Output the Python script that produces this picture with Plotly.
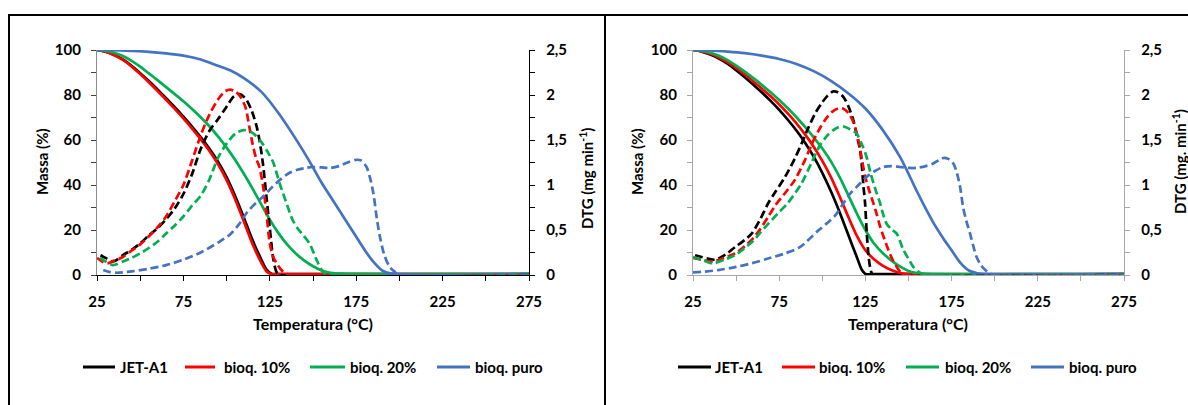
import plotly.graph_objects as go

# ---------------- DATA ----------------
# Axis ticks
X_TICKS = [25, 75, 125, 175, 225, 275]
X_TICK_LABELS = ["25", "75", "125", "175", "225", "275"]
X_MINOR_TICKS = [50, 100, 150, 200, 250]
MASS_TICKS = [0, 20, 40, 60, 80, 100]
MASS_TICK_LABELS = ["0", "20", "40", "60", "80", "100"]
MASS_MINOR_TICKS = [10, 30, 50, 70, 90]
DTG_TICKS = [0, 0.5, 1, 1.5, 2, 2.5]
DTG_TICK_LABELS = ["0", "0,5", "1", "1,5", "2", "2,5"]
DTG_MINOR_TICKS = [0.25, 0.75, 1.25, 1.75, 2.25]

SERIES = ["JET-A1", "bioq. 10%", "bioq. 20%", "bioq. puro"]

# ---- Left chart: TG (Massa %) ----
L_JET_TG_T = [25, 30, 35, 40, 45, 50, 55, 60, 65, 70, 75, 80, 85, 90, 95, 100, 105, 110, 115, 120, 123, 126, 130, 275]
L_JET_TG = [100, 99.2, 97.8, 95.8, 93, 89.7, 86.2, 82.5, 78.6, 74.6, 70.4, 66, 61.3, 56.2, 50.4, 43.5, 35, 25.5, 15.5, 7, 2.5, 0.5, 0.4, 0.4]
L_B10_TG_T = [25, 30, 35, 40, 45, 50, 55, 60, 65, 70, 75, 80, 85, 90, 95, 100, 105, 110, 115, 120, 123, 126, 130, 275]
L_B10_TG = [100, 99.2, 97.7, 95.6, 92.7, 89.3, 85.7, 81.9, 77.9, 73.8, 69.6, 65.1, 60.4, 55.2, 49.3, 42.2, 33.6, 23.8, 13.8, 5.6, 1.7, 0.4, 0.4, 0.4]
L_B20_TG_T = [25, 30, 35, 40, 45, 50, 55, 60, 65, 70, 75, 80, 85, 90, 95, 100, 105, 110, 115, 120, 125, 130, 135, 140, 145, 150, 155, 160, 166, 275]
L_B20_TG = [100, 99.6, 98.8, 97.3, 95.2, 92.6, 89.6, 86.6, 83.5, 80.4, 77.2, 73.8, 70.1, 66.1, 61.6, 56.6, 51.1, 45, 38.4, 31.5, 24.6, 18.6, 13.6, 9.6, 6.4, 3.9, 2, 1, 0.6, 0.6]
L_PURO_TG_T = [25, 35, 45, 55, 65, 75, 85, 95, 102, 110, 120, 130, 140, 148, 155, 160, 165, 170, 175, 180, 185, 190, 195, 275]
L_PURO_TG = [100, 99.9, 99.6, 99.2, 98.5, 97.5, 95.8, 93, 91, 87.5, 81.5, 72, 60.5, 50.5, 41, 35, 29, 23, 17, 11, 5.8, 2, 0.6, 0.4]

# ---- Left chart: DTG ----
L_JET_DTG_T = [27, 30, 34.5, 40, 45, 50, 55, 60, 65, 70, 75, 80, 85, 90, 95, 100, 104, 107.5, 111, 114, 117, 119, 121, 123, 125, 127, 129, 131, 275]
L_JET_DTG = [0.22, 0.19, 0.15, 0.22, 0.28, 0.35, 0.44, 0.52, 0.62, 0.74, 0.9, 1.12, 1.4, 1.6, 1.73, 1.87, 1.98, 2.01, 1.96, 1.85, 1.68, 1.5, 1.24, 0.88, 0.52, 0.18, 0.03, 0, 0]
L_B10_DTG_T = [25, 28, 31, 35, 40, 45, 50, 55, 60, 65, 70, 75, 80, 85, 90, 95, 99, 102, 105, 108, 111, 113, 115, 117, 119, 121, 123, 125, 127, 129, 132, 135, 275]
L_B10_DTG = [0.19, 0.15, 0.13, 0.16, 0.2, 0.27, 0.34, 0.43, 0.53, 0.65, 0.82, 1.0, 1.27, 1.55, 1.78, 1.95, 2.04, 2.06, 2.04, 1.98, 1.86, 1.66, 1.46, 1.3, 1.2, 1.0, 0.7, 0.35, 0.2, 0.13, 0.05, 0.01, 0]
L_B20_DTG_T = [26.7, 30, 34.4, 40, 45, 50, 55, 60, 65, 70, 75, 80, 85, 90, 95, 100, 105, 110, 115, 120, 124, 127, 131, 135, 138, 141, 144, 148, 152, 156, 160, 275]
L_B20_DTG = [0.19, 0.15, 0.11, 0.15, 0.19, 0.24, 0.3, 0.37, 0.46, 0.55, 0.65, 0.77, 0.88, 1.06, 1.3, 1.46, 1.57, 1.61, 1.58, 1.48, 1.36, 1.25, 1.0, 0.78, 0.62, 0.52, 0.45, 0.35, 0.17, 0.03, 0, 0]
L_PURO_DTG_T = [28.6, 32, 36.4, 45, 55, 65, 75, 85, 95, 102, 107, 112, 117, 121, 126, 131, 136, 141, 146, 150, 155, 160, 165, 170, 175, 178, 181, 183, 185, 187, 189, 191, 194, 197, 200, 275]
L_PURO_DTG = [0.055, 0.035, 0.025, 0.04, 0.07, 0.11, 0.17, 0.25, 0.36, 0.45, 0.56, 0.7, 0.8, 0.87, 0.97, 1.06, 1.13, 1.17, 1.19, 1.2, 1.195, 1.19, 1.21, 1.25, 1.28, 1.27, 1.2, 1.08, 0.9, 0.62, 0.4, 0.24, 0.1, 0.04, 0, 0]

# ---- Right chart: TG (Massa %) ----
R_JET_TG_T = [25, 30, 35, 40, 45, 50, 55, 60, 65, 70, 75, 80, 85, 90, 95, 100, 105, 110, 115, 120, 123, 125, 130, 275]
R_JET_TG = [100, 99.3, 98, 96.2, 93.9, 91, 87.9, 84.6, 81.1, 77.4, 73.4, 69, 64.2, 58.8, 52.6, 45.4, 37.2, 28, 18, 8, 2.2, 0.5, 0.4, 0.4]
R_B10_TG_T = [25, 30, 35, 40, 45, 50, 55, 60, 65, 70, 75, 80, 85, 90, 95, 100, 105, 110, 115, 120, 125, 130, 135, 140, 145, 150, 275]
R_B10_TG = [100, 99.4, 98.3, 96.7, 94.6, 92, 89.1, 86, 82.8, 79.4, 75.8, 71.8, 67.4, 62.5, 57, 50.7, 43.5, 35, 26, 17.5, 11, 7, 4.2, 2.2, 0.9, 0.5, 0.4]
R_B20_TG_T = [25, 30, 35, 40, 45, 50, 55, 60, 65, 70, 75, 80, 85, 90, 95, 100, 105, 110, 115, 120, 125, 130, 135, 140, 145, 150, 155, 160, 275]
R_B20_TG = [100, 99.6, 98.8, 97.4, 95.5, 93.1, 90.4, 87.5, 84.4, 81.2, 77.8, 74.1, 70.1, 65.8, 61.2, 56.2, 50.5, 43.6, 35.6, 27.4, 20, 14, 9.8, 6.5, 3.8, 1.8, 0.8, 0.5, 0.5]
R_PURO_TG_T = [25, 35, 45, 55, 65, 75, 85, 95, 105, 115, 125, 135, 145, 150, 155, 160, 165, 170, 175, 180, 185, 190, 195, 275]
R_PURO_TG = [100, 99.8, 99.3, 98.6, 97.5, 96, 93.8, 90.6, 86.3, 80.8, 74, 64.5, 52.6, 45, 37, 29.5, 22.5, 16.5, 11, 5.5, 2, 0.8, 0.4, 0.4]

# ---- Right chart: DTG ----
R_JET_DTG_T = [26.2, 30, 37.8, 44, 49.4, 55, 59, 64, 68.7, 73, 78.4, 84.2, 88, 92, 96, 99.6, 103, 106.4, 109, 112.2, 115, 118, 120, 121.9, 123, 123.8, 124.8, 125.8, 126.8, 127.7, 129, 131, 275]
R_JET_DTG = [0.22, 0.2, 0.17, 0.23, 0.31, 0.39, 0.46, 0.62, 0.8, 0.93, 1.09, 1.3, 1.46, 1.64, 1.8, 1.91, 1.99, 2.04, 2.03, 1.98, 1.88, 1.72, 1.55, 1.39, 1.2, 1.0, 0.8, 0.46, 0.22, 0.09, 0.01, 0, 0]
R_B10_DTG_T = [25, 30, 36.6, 43, 49.4, 55, 60, 64, 68.7, 73, 78, 84.2, 90, 93.8, 97.7, 101.5, 105.5, 109.3, 112, 115.1, 118, 120.9, 123, 124.8, 127, 129.6, 131.5, 133.5, 136, 138.3, 141, 143.2, 146, 149, 275]
R_B10_DTG = [0.19, 0.17, 0.15, 0.19, 0.24, 0.32, 0.41, 0.51, 0.65, 0.78, 0.9, 1.06, 1.28, 1.45, 1.6, 1.72, 1.81, 1.85, 1.85, 1.8, 1.7, 1.5, 1.28, 1.1, 0.95, 0.8, 0.68, 0.54, 0.4, 0.28, 0.16, 0.09, 0.02, 0, 0]
R_B20_DTG_T = [25, 30, 36.6, 43, 49.4, 55, 60, 64, 68.7, 74, 80, 88, 93.8, 98, 102, 106.4, 109, 112.2, 116, 119.9, 123, 125.7, 128, 131.5, 133.5, 135.5, 137.3, 140, 143.2, 145, 147, 150, 152.8, 155.5, 158.6, 275]
R_B20_DTG = [0.2, 0.17, 0.13, 0.17, 0.22, 0.3, 0.38, 0.47, 0.57, 0.68, 0.8, 1.02, 1.25, 1.42, 1.53, 1.61, 1.64, 1.65, 1.62, 1.57, 1.45, 1.31, 1.13, 0.91, 0.8, 0.66, 0.57, 0.51, 0.46, 0.38, 0.28, 0.18, 0.09, 0.04, 0.01, 0]
R_PURO_DTG_T = [25, 30, 39.7, 50, 59, 68, 78.4, 87, 98, 103, 107.4, 111, 116, 121, 125.7, 130, 135.4, 140, 145, 150, 154.7, 160, 164.4, 168, 170.2, 173, 176, 178, 179.9, 181.8, 183.7, 185.7, 187.6, 189.5, 192, 194.3, 197, 200, 275]
R_PURO_DTG = [0.03, 0.035, 0.055, 0.09, 0.13, 0.18, 0.24, 0.31, 0.5, 0.58, 0.66, 0.76, 0.9, 1.0, 1.09, 1.15, 1.2, 1.21, 1.2, 1.19, 1.19, 1.21, 1.24, 1.28, 1.3, 1.29, 1.24, 1.14, 0.98, 0.74, 0.59, 0.46, 0.32, 0.2, 0.11, 0.06, 0.02, 0, 0]

COLORS = ["#000000", "#FF0000", "#00B050", "#4472C4"]

# ---------------- FIGURE ----------------
W, H = 1188, 405


def px(x):
    return x / W


def py(y):
    return 1 - y / H


FONT = "Lato"
DASH = "8px,4px"
LW = 2.7

fig = go.Figure()

left_tg = [(L_JET_TG_T, L_JET_TG), (L_B10_TG_T, L_B10_TG), (L_B20_TG_T, L_B20_TG), (L_PURO_TG_T, L_PURO_TG)]
left_dtg = [(L_JET_DTG_T, L_JET_DTG), (L_B10_DTG_T, L_B10_DTG), (L_B20_DTG_T, L_B20_DTG), (L_PURO_DTG_T, L_PURO_DTG)]
right_tg = [(R_JET_TG_T, R_JET_TG), (R_B10_TG_T, R_B10_TG), (R_B20_TG_T, R_B20_TG), (R_PURO_TG_T, R_PURO_TG)]
right_dtg = [(R_JET_DTG_T, R_JET_DTG), (R_B10_DTG_T, R_B10_DTG), (R_B20_DTG_T, R_B20_DTG), (R_PURO_DTG_T, R_PURO_DTG)]

for (t, v), c, n in zip(left_tg, COLORS, SERIES):
    fig.add_trace(go.Scatter(x=t, y=v, mode="lines", name=n, showlegend=False,
                             line=dict(color=c, width=LW, shape="spline", smoothing=0.8),
                             xaxis="x", yaxis="y"))
for (t, v), c, n in zip(left_dtg, COLORS, SERIES):
    fig.add_trace(go.Scatter(x=t, y=v, mode="lines", name=n + " DTG", showlegend=False,
                             line=dict(color=c, width=LW, dash=DASH, shape="spline", smoothing=0.8),
                             xaxis="x", yaxis="y2"))
for (t, v), c, n in zip(right_tg, COLORS, SERIES):
    fig.add_trace(go.Scatter(x=t, y=v, mode="lines", name=n, showlegend=False,
                             line=dict(color=c, width=LW, shape="spline", smoothing=0.8),
                             xaxis="x2", yaxis="y3"))
for (t, v), c, n in zip(right_dtg, COLORS, SERIES):
    fig.add_trace(go.Scatter(x=t, y=v, mode="lines", name=n + " DTG", showlegend=False,
                             line=dict(color=c, width=LW, dash=DASH, shape="spline", smoothing=0.8),
                             xaxis="x2", yaxis="y4"))

tickfont = dict(family=FONT, size=15, color="black", weight="bold")
YDOM = [py(275), py(50)]
LX = [px(97), px(529)]
RX = [px(693), px(1124)]
GRAY = "#A6A6A6"


def minor(vals, color):
    return dict(tickmode="array", tickvals=vals, ticks="outside", ticklen=5, tickcolor=color,
                tickwidth=1, showgrid=False)


def xax(domain, anchor, color):
    return dict(domain=domain, anchor=anchor, range=[25, 275], tickmode="array",
                tickvals=X_TICKS, ticktext=X_TICK_LABELS, ticks="outside", ticklen=5,
                tickcolor=color, tickwidth=1, showline=True, linecolor=color, linewidth=1.3,
                showgrid=False, zeroline=False, tickfont=tickfont, ticklabelstandoff=8,
                minor=minor(X_MINOR_TICKS, color))


def yax(anchor, color, tcolor):
    return dict(domain=YDOM, anchor=anchor, range=[0, 100], tickmode="array",
                tickvals=MASS_TICKS, ticktext=MASS_TICK_LABELS, ticks="outside", ticklen=5,
                tickcolor=tcolor, tickwidth=1, showline=True, linecolor=color, linewidth=1.3,
                showgrid=False, zeroline=False, tickfont=tickfont, ticklabelstandoff=7,
                minor=minor(MASS_MINOR_TICKS, tcolor))


def y2ax(anchor, overlay, color):
    return dict(domain=YDOM, anchor=anchor, overlaying=overlay, side="right", range=[0, 2.5],
                tickmode="array", tickvals=DTG_TICKS, ticktext=DTG_TICK_LABELS, ticks="outside",
                ticklen=5, tickcolor=color, tickwidth=1, showline=True, linecolor=color,
                linewidth=1.3, showgrid=False, zeroline=False, tickfont=tickfont,
                ticklabelstandoff=8, minor=minor(DTG_MINOR_TICKS, color))


fig.update_layout(
    autosize=True, margin=dict(l=0, r=0, t=0, b=0, autoexpand=False),
    paper_bgcolor="white", plot_bgcolor="rgba(0,0,0,0)",
    showlegend=False,
    xaxis=xax(LX, "y", "#000000"),
    yaxis=yax("x", "#8C8C8C", "#404040"),
    yaxis2=y2ax("x", "y", "#000000"),
    xaxis2=xax(RX, "y3", GRAY),
    yaxis3=yax("x2", GRAY, GRAY),
    yaxis4=y2ax("x2", "y3", GRAY),
)

titlefont = dict(family=FONT, size=16, color="black")
annfont = dict(family=FONT, size=15, color="black")
anns = []
# axis titles
for cx in (313, 908):
    anns.append(dict(x=px(cx), y=py(323), xref="paper", yref="paper", text="<b>Temperatura (°C)</b>",
                     showarrow=False, font=titlefont, xanchor="center", yanchor="middle"))
for cx in (42, 637):
    anns.append(dict(x=px(cx), y=py(162), xref="paper", yref="paper", text="<b>Massa (%)</b>",
                     showarrow=False, font=annfont, textangle=-90, xanchor="center", yanchor="middle"))
anns.append(dict(x=px(586), y=py(179), xref="paper", yref="paper",
                 text="<b>DTG (mg min<sup>-1</sup>)</b>", showarrow=False, font=annfont,
                 textangle=-90, xanchor="center", yanchor="middle"))
anns.append(dict(x=px(1179), y=py(162), xref="paper", yref="paper",
                 text="<b>DTG (mg. min<sup>-1</sup>)</b>", showarrow=False, font=annfont,
                 textangle=-90, xanchor="center", yanchor="middle"))

shapes = []
# legends (manual)
LEG_Y = 367
left_leg = [(83, 115, 118), (185, 215, 222), (310, 345, 348), (437, 470, 473)]
right_leg = [(678, 711, 713), (782, 815, 817), (906, 939, 943), (1031, 1064, 1067)]
for leg in (left_leg, right_leg):
    for (x0, x1, tx), c, n in zip(leg, COLORS, SERIES):
        shapes.append(dict(type="line", xref="paper", yref="paper", x0=px(x0), x1=px(x1),
                           y0=py(LEG_Y), y1=py(LEG_Y), line=dict(color=c, width=3)))
        anns.append(dict(x=px(tx), y=py(LEG_Y), xref="paper", yref="paper", text="<b>" + n + "</b>",
                         showarrow=False, font=annfont, xanchor="left", yanchor="middle"))

# frame lines (table borders)
shapes.append(dict(type="line", xref="paper", yref="paper", x0=px(8), x1=px(1188), y0=py(15), y1=py(15),
                   line=dict(color="black", width=2)))
shapes.append(dict(type="line", xref="paper", yref="paper", x0=px(9), x1=px(9), y0=py(15), y1=py(405),
                   line=dict(color="black", width=2)))
shapes.append(dict(type="line", xref="paper", yref="paper", x0=px(605), x1=px(605), y0=py(15), y1=py(405),
                   line=dict(color="black", width=2)))

fig.update_layout(annotations=anns, shapes=shapes)

fig.write_html(
    "out.html",
    config={"displayModeBar": False},
    default_width="1188px",
    default_height="405px;position:absolute;left:0;top:0;margin:0",
)
